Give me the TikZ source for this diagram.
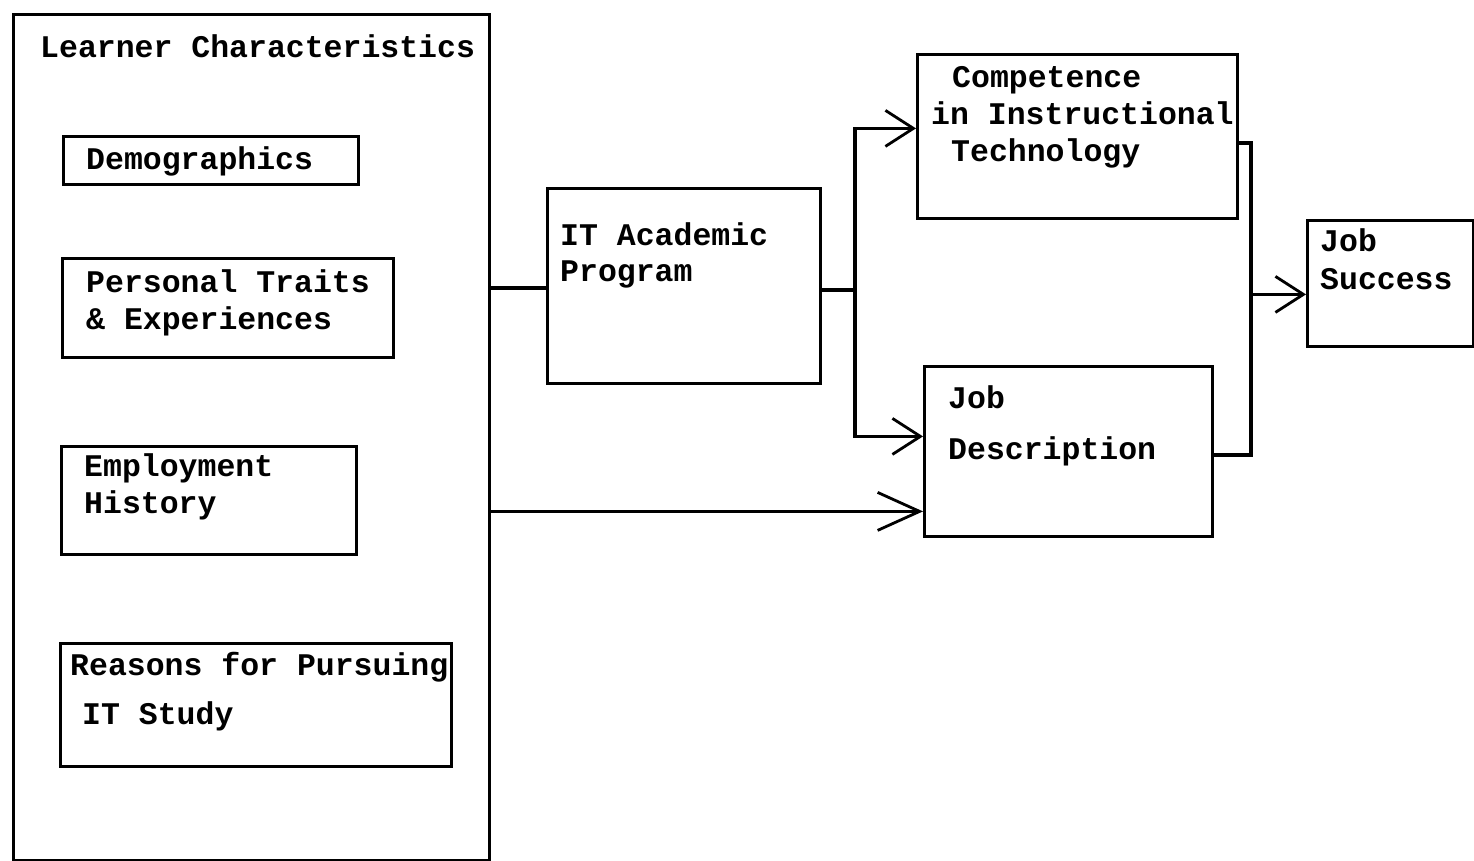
\documentclass[tikz,border=0pt]{standalone}
\usepackage{fontspec}
\setmonofont{Liberation Mono}
\usetikzlibrary{arrows.meta}
\begin{document}
\begin{tikzpicture}[x=1pt,y=-1pt,
  box/.style={draw=black, line width=2.8pt, anchor=north west, inner sep=0pt},
  lbl/.style={anchor=base west, inner sep=0pt, font=\fontsize{31.5}{37}\selectfont\ttfamily\bfseries},
  conn/.style={draw=black, line width=3.2pt},
  arr/.style={conn, -{Straight Barb[length=28pt,width=36pt,line width=2.8pt]}},
  bigarr/.style={conn, -{Straight Barb[length=42pt,width=38pt,line width=2.8pt]}}]
\useasboundingbox (0,0) rectangle (1474,861);
% boxes
\node[box, minimum width=476pt, minimum height=846pt] (learner) at (12,13) {};
\node[box, minimum width=295pt, minimum height=48pt] (demo) at (62,135) {};
\node[box, minimum width=331pt, minimum height=99pt] (pers) at (61,257) {};
\node[box, minimum width=295pt, minimum height=108pt] (empl) at (60,445) {};
\node[box, minimum width=391pt, minimum height=123pt] (reas) at (59,642) {};
\node[box, minimum width=273pt, minimum height=195pt] (itp) at (546,187) {};
\node[box, minimum width=320pt, minimum height=164pt] (comp) at (916,53) {};
\node[box, minimum width=288pt, minimum height=170pt] (jd) at (923,365) {};
\node[box, minimum width=166pt, minimum height=126pt] (js) at (1306,219) {};
% texts
\node[lbl] (t1) at (40,58) {Learner Characteristics};
\node[lbl] (t2) at (86,170) {Demographics};
\node[lbl] (t3) at (86,292) {Personal Traits};
\node[lbl] (t4) at (86,329) {\& Experiences};
\node[lbl] (t5) at (84,476) {Employment};
\node[lbl] (t6) at (84,513) {History};
\node[lbl] (t7) at (70,675) {Reasons for Pursuing};
\node[lbl] (t8) at (82,724) {IT Study};
\node[lbl] (t9) at (560,245) {IT Academic};
\node[lbl] (t10) at (560,281) {Program};
\node[lbl] (t11) at (952,88) {Competence};
\node[lbl] (t12) at (931,125) {in Instructional};
\node[lbl] (t13) at (951,162) {Technology};
\node[lbl] (t14) at (948,408) {Job};
\node[lbl] (t15) at (948,459) {Description};
\node[lbl] (t16) at (1320,251) {Job};
\node[lbl] (t17) at (1320,289) {Success};
% connectors
\coordinate (s) at (855,290);
\coordinate (b1) at (1251,143);
\coordinate (b2) at (1251,455);
\draw[conn] ([yshift=-2pt]itp.west) -- ([yshift=-2pt]itp.west -| learner.east);
\draw[conn] (s -| itp.east) -- (s);
\draw[arr] (s) |- ([yshift=8pt]comp.west);
\draw[arr] (s) |- ([yshift=15pt]jd.west);
\draw[bigarr] ([yshift=-60pt]jd.west -| learner.east) -- ([yshift=-60pt]jd.west);
\draw[conn] (b1 -| comp.east) -- (b1) -- (b2) -- (b2 -| jd.east);
\draw[arr] ([yshift=-11pt]js.west -| b1) -- ([yshift=-11pt]js.west);
\end{tikzpicture}
\end{document}
